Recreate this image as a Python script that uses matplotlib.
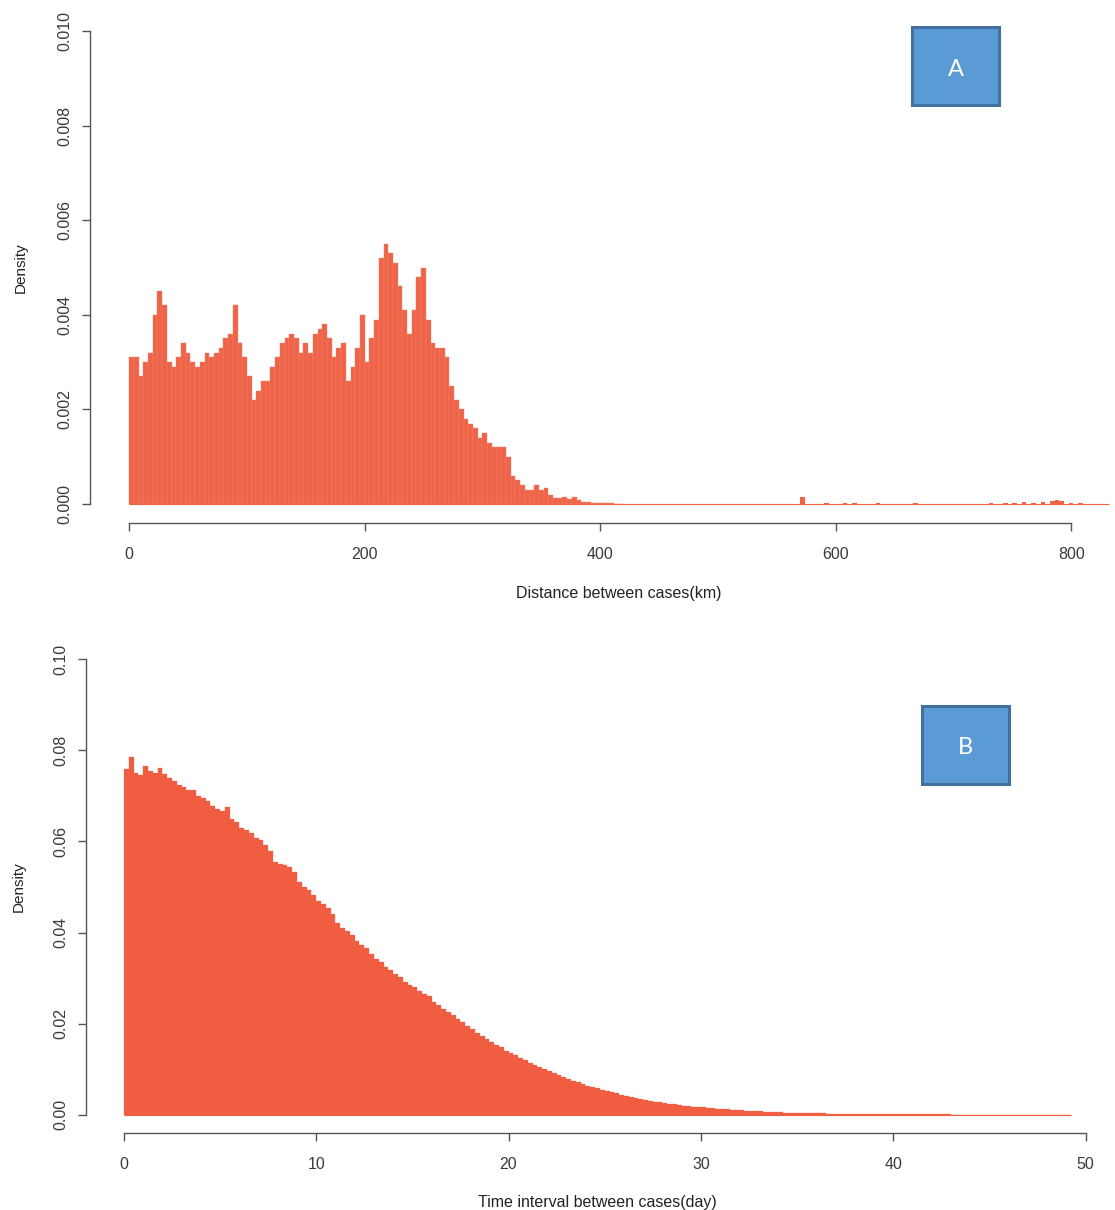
import numpy as np
import matplotlib
matplotlib.use("Agg")
import matplotlib.pyplot as plt
from matplotlib.patches import Rectangle

plt.rcParams['font.family'] = ['Liberation Sans', 'DejaVu Sans']

# ---- panel A: distance between cases (km), 4 km bins from 0 to 420
dist_bin_w = 4
dist_density = [
    0.0031, 0.0031, 0.0027, 0.0030, 0.0032, 0.0040, 0.0045, 0.0042, 0.0030, 0.0029,
    0.0031, 0.0034, 0.0032, 0.0030, 0.0029, 0.0030, 0.0032, 0.0031, 0.0032, 0.0033,
    0.0035, 0.0036, 0.0042, 0.0034, 0.0031,
    0.0027, 0.0022, 0.0024, 0.0026, 0.0026, 0.0029, 0.0031, 0.0034, 0.0035, 0.0036,
    0.0035, 0.0032, 0.0034, 0.0032, 0.0036, 0.0037, 0.0038, 0.0035, 0.0031, 0.0033,
    0.0034, 0.0026, 0.0029, 0.0033, 0.0040, 0.0030, 0.0035, 0.0039, 0.0052, 0.0055,
    0.0053, 0.0051, 0.0046, 0.0041, 0.0036, 0.0041, 0.0048, 0.0050, 0.0039, 0.0034,
    0.0033, 0.0033, 0.0031, 0.0025, 0.0022, 0.0020, 0.0018, 0.0017, 0.0016, 0.0014,
    0.0015, 0.0013, 0.0012, 0.0012, 0.0012, 0.0010, 0.0006, 0.0005, 0.0004, 0.0003,
    0.0003, 0.0004, 0.0003, 0.00035, 0.0002, 0.00013, 0.00013, 0.00015, 0.0001, 0.00014,
    0.00008, 0.00005, 0.00004, 0.00003, 0.00003, 0.00003, 0.00002, 0.00002, 0.00001, 0.00001,
]
# sparse far tail
tail_km = [424, 440, 460, 500, 540, 556, 570, 590, 598, 606, 614, 622, 634, 650, 666,
           690, 710, 730, 742, 750, 758, 766, 774, 782, 786, 790, 798, 806, 814, 822]
tail_density = [0.00001, 0.00001, 0.00001, 0.00001, 0.00001, 0.00001, 0.00014, 0.00002,
                0.00001, 0.00003, 0.00002, 0.00001, 0.00002, 0.00001, 0.00002, 0.00001,
                0.00001, 0.00002, 0.00003, 0.00002, 0.00004, 0.00003, 0.00004, 0.00007,
                0.00009, 0.00006, 0.00003, 0.00002, 0.00001, 0.00001]
dist_max = 832

# ---- panel B: time interval between cases (day), 0.25 day bins
time_bin_w = 0.25
time_density = [
    0.0760, 0.0785, 0.0750, 0.0745, 0.0765, 0.0755, 0.0750, 0.0762, 0.0748, 0.0740,
    0.0732, 0.0725, 0.0720, 0.0714, 0.0712, 0.0700, 0.0695, 0.0688, 0.0678, 0.0672,
    0.0666, 0.0675, 0.0650, 0.0642, 0.0630, 0.0625, 0.0618, 0.0608, 0.0603, 0.0592,
    0.0580, 0.0555, 0.0550, 0.0548, 0.0545, 0.0532, 0.0510, 0.0500, 0.0493, 0.0482,
    0.0470, 0.0462, 0.0455, 0.0440, 0.0420, 0.0410, 0.0403, 0.0395, 0.0382, 0.0372,
    0.0366, 0.0352, 0.0342, 0.0335, 0.0325, 0.0318, 0.0310, 0.0303, 0.0292, 0.0285,
    0.0280, 0.0272, 0.0266, 0.0260, 0.0248, 0.0240, 0.0233, 0.0226, 0.0218, 0.0210,
    0.0203, 0.0195, 0.0188, 0.0180, 0.0172, 0.0166, 0.0160, 0.0154, 0.0148, 0.0141,
    0.0136, 0.0131, 0.0125, 0.0120, 0.0114, 0.0110, 0.0105, 0.0100, 0.0096, 0.0091,
    0.0087, 0.0083, 0.0079, 0.0075, 0.0071, 0.0068, 0.0064, 0.0061, 0.0058, 0.0055,
    0.0052, 0.0049, 0.0047, 0.0044, 0.0042, 0.0040, 0.0037, 0.0035, 0.0033, 0.0031,
    0.0029, 0.0028, 0.0026, 0.0024, 0.0023, 0.0021, 0.0020, 0.0019, 0.0018, 0.0017,
    0.0016, 0.0015, 0.0014, 0.0013, 0.0012, 0.0012, 0.0011, 0.0010, 0.00095, 0.0009,
    0.00085, 0.0008, 0.0009, 0.0007, 0.00065, 0.0006, 0.00055, 0.0005, 0.00048, 0.00045,
    0.0004, 0.00038, 0.00036, 0.00034, 0.00031, 0.0003, 0.00028, 0.00026, 0.00025, 0.00023,
    0.00022, 0.0002, 0.00019, 0.00018, 0.00017, 0.00016, 0.00015, 0.00014, 0.00013, 0.00013,
    0.00012, 0.00011, 0.00011, 0.0001, 0.0001, 0.00009, 0.00009, 0.00008, 0.00008, 0.00007,
    0.00007, 0.00007, 0.00006, 0.00006, 0.00006, 0.00005, 0.00005, 0.00005, 0.00005, 0.00004,
    0.00004, 0.00004, 0.00004, 0.00004, 0.00003, 0.00003, 0.00003, 0.00003, 0.00003, 0.00003,
    0.00002, 0.00002, 0.00002, 0.00002, 0.00002, 0.00002, 0.00002,
]

W, H = 1115, 1210
fig = plt.figure(figsize=(W / 100, H / 100), dpi=100)


def px_axes(left, top, right, bottom):
    return fig.add_axes([left / W, 1 - bottom / H, (right - left) / W, (bottom - top) / H])


def r_style(ax, xb, yb, xticks, yticks, yfmt):
    for s in ['top', 'right']:
        ax.spines[s].set_visible(False)
    ax.spines['left'].set_bounds(*yb)
    ax.spines['bottom'].set_bounds(*xb)
    for s in ['left', 'bottom']:
        ax.spines[s].set_color('#555555')
        ax.spines[s].set_linewidth(1.0)
    ax.set_xticks(xticks)
    ax.set_yticks(yticks)
    ax.set_yticklabels([yfmt % v for v in yticks])
    ax.tick_params(length=6, width=1, color='#555555', labelsize=11.5, labelcolor='#3a3a3a')
    ax.tick_params(axis='x', pad=11)
    ax.tick_params(axis='y', pad=7, labelrotation=90)
    plt.setp(ax.get_yticklabels(), va='center')


col_a = '#EE6448'
col_b = '#F05D41'

# panel A
ax1 = px_axes(90, 12, 1148, 523)
edges = np.arange(len(dist_density)) * dist_bin_w
ax1.hlines(0, 0, dist_max, color=col_a, lw=0.8)
ax1.bar(edges, dist_density, width=dist_bin_w, align='edge', color=col_a,
        edgecolor='#F3826B', linewidth=0.3)
ax1.bar(tail_km, tail_density, width=dist_bin_w, align='edge', color=col_a, linewidth=0)
ax1.set_xlim(-0.04 * dist_max, 1.04 * dist_max)
ax1.set_ylim(-0.0004, 0.0104)
r_style(ax1, (0, 800), (0, 0.010), [0, 200, 400, 600, 800],
        [0.000, 0.002, 0.004, 0.006, 0.008, 0.010], '%.3f')
ax1.set_xlabel('Distance between cases(km)', fontsize=11.5, color='#222222')
ax1.set_ylabel('Density', fontsize=11, color='#222222')
ax1.xaxis.set_label_coords(0.5, -0.124)
ax1.yaxis.set_label_coords(-0.059, 0.5)

# panel B
ax2 = px_axes(86, 641, 1109, 1133)
t_edges = np.arange(len(time_density)) * time_bin_w
t_max = len(time_density) * time_bin_w
ax2.hlines(0, 0, t_max, color=col_b, lw=0.8)
ax2.bar(t_edges, time_density, width=time_bin_w, align='edge', color=col_b,
        edgecolor=col_b, linewidth=0.2)
ax2.set_xlim(-0.04 * t_max, 1.04 * t_max)
ax2.set_ylim(-0.004, 0.104)
r_style(ax2, (0, 50), (0, 0.10), [0, 10, 20, 30, 40, 50],
        [0.00, 0.02, 0.04, 0.06, 0.08, 0.10], '%.2f')
ax2.set_xlabel('Time interval between cases(day)', fontsize=11.5, color='#222222')
ax2.set_ylabel('Density', fontsize=11, color='#222222')
ax2.xaxis.set_label_coords(0.5, -0.126)
ax2.yaxis.set_label_coords(-0.059, 0.5)

# panel tags
for lbl, (x0, y0, x1, y1) in [('A', (912, 27, 999, 105)), ('B', (922, 706, 1009, 784))]:
    fig.add_artist(Rectangle((x0 / W, 1 - y1 / H), (x1 - x0) / W, (y1 - y0) / H,
                             transform=fig.transFigure, facecolor='#5B9BD5',
                             edgecolor='#41719C', linewidth=2.2))
    fig.text((x0 + x1) / 2 / W, 1 - ((y0 + y1) / 2 + 3) / H, lbl, color='white',
             fontsize=17, family=['Lato', 'DejaVu Sans'], ha='center', va='center')

fig.savefig('out.png', dpi=100)
